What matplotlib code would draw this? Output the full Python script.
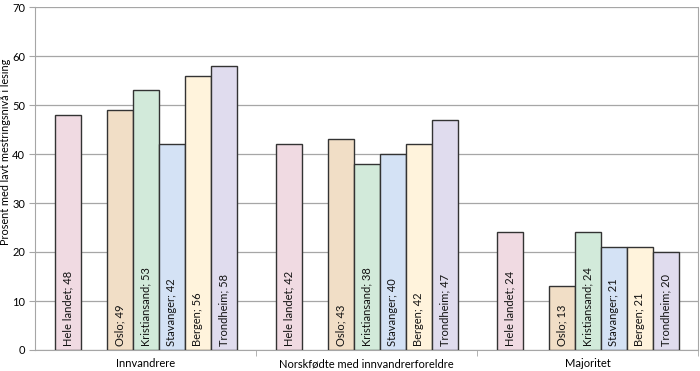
import matplotlib
matplotlib.use("Agg")
import matplotlib.pyplot as plt
import numpy as np

plt.rcParams['font.family'] = ['Lato', 'DejaVu Sans']

groups = ["Innvandrere", "Norskfødte med innvandrerforeldre", "Majoritet"]
series = ["Hele landet", "Oslo", "Kristiansand", "Stavanger", "Bergen", "Trondheim"]
values = {
    "Hele landet": [48, 42, 24],
    "Oslo": [49, 43, 13],
    "Kristiansand": [53, 38, 24],
    "Stavanger": [42, 40, 21],
    "Bergen": [56, 42, 21],
    "Trondheim": [58, 47, 20],
}
colors = ["#F0DAE2", "#F1DEC6", "#D2EADA", "#D4E2F5", "#FFF3DC", "#E0DCEE"]
slots = [0, 2, 3, 4, 5, 6]  # empty slot between Hele landet and Oslo

fig = plt.figure(figsize=(7, 3.71), dpi=100)
ax = fig.add_axes([35/700, 21/371, (698-35)/700, (350-7)/371])

n_slots = 7
w = 26/221
x = np.arange(len(groups))
for s, name in enumerate(series):
    off = -n_slots*w/2 + (slots[s]+0.5)*w
    ax.bar(x + off, values[name], width=w, color=colors[s],
           edgecolor="#333333", linewidth=1.0, zorder=3)
    for xi, v in zip(x + off, values[name]):
        ax.text(xi, 0.8, f"{name}; {v}", rotation=90, ha="center", va="bottom",
                fontsize=8, color="#111111", zorder=4)

ax.set_xlim(-0.5, 2.5)
ax.set_ylim(0, 70)
ax.set_yticks(range(0, 71, 10))
ax.yaxis.grid(True, color="#A6A6A6", linewidth=0.9, zorder=0)
ax.set_xticks(x)
ax.set_xticklabels(groups, fontsize=8)
ax.tick_params(axis="x", length=0, pad=6)
ax.set_xticks([0.5, 1.5, 2.5], minor=True)
ax.tick_params(axis="x", which="minor", length=4, color="#A6A6A6")
ax.tick_params(axis="y", length=4, color="#A6A6A6", labelsize=8, pad=3)
ax.spines["top"].set_visible(False)
for sp in ["left", "bottom", "right"]:
    ax.spines[sp].set_color("#A6A6A6")
fig.text(6/700, (371 - 152)/371, "Prosent med lavt mestringsnivå i lesing",
         rotation=90, ha="center", va="center", fontsize=7.8)

fig.savefig("out.png", dpi=100)
